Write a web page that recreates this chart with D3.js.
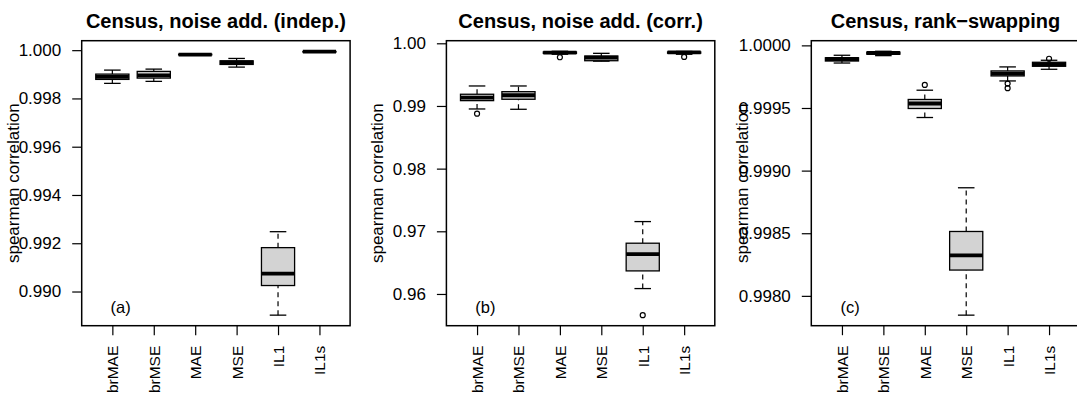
<!DOCTYPE html>
<html>
<head>
<meta charset="utf-8">
<script src="https://cdn.jsdelivr.net/npm/d3@7"></script>
<style>
  body { margin: 0; background: #fff; }
  text { font-family: "Liberation Sans", Arial, sans-serif; fill: #000; }
</style>
</head>
<body>
<div id="chart"></div>
<script>
// Plot constants
const WIDTH = 1077;
const HEIGHT = 397;

// categories
const methods = ["brMAE", "brMSE", "MAE", "MSE", "IL1", "IL1s"];

// box stats per method: [lower whisker, q1, median, q3, upper whisker]
const indepStats = [
  [0.998624, 0.998789, 0.998897, 0.999008, 0.999174],
  [0.998707, 0.998843, 0.998955, 0.99912, 0.999215],
  [0.999785, 0.999805, 0.999818, 0.99983, 0.999845],
  [0.999298, 0.999409, 0.999492, 0.999558, 0.999657],
  [0.989021, 0.990248, 0.990744, 0.991818, 0.992479],
  [0.99991, 0.999925, 0.999937, 0.999945, 0.999955],
];
const indepOutliers = [];

const corrStats = [
  [0.98952, 0.99085, 0.99132, 0.99187, 0.99319],
  [0.98947, 0.99107, 0.99171, 0.99228, 0.99319],
  [0.99825, 0.9984, 0.99852, 0.99862, 0.99873],
  [0.99715, 0.99722, 0.9977, 0.99797, 0.9984],
  [0.96086, 0.96368, 0.96635, 0.9681, 0.97155],
  [0.99825, 0.99842, 0.99855, 0.99862, 0.9987],
];
const corrOutliers = [
  ["brMAE", 0.98877],
  ["MAE", 0.99777],
  ["IL1", 0.95662],
  ["IL1s", 0.99782],
];

const swapStats = [
  [0.999859, 0.999875, 0.999891, 0.999901, 0.999921],
  [0.999918, 0.99993, 0.999939, 0.999946, 0.999953],
  [0.999424, 0.999496, 0.999536, 0.999568, 0.999642],
  [0.997846, 0.998206, 0.998323, 0.998514, 0.998863],
  [0.999716, 0.999756, 0.999774, 0.999796, 0.999828],
  [0.999809, 0.999833, 0.999849, 0.999865, 0.999881],
];
const swapOutliers = [
  ["MAE", 0.999684],
  ["IL1", 0.999695],
  ["IL1", 0.999658],
  ["IL1s", 0.999893],
];

// tick labels
const indepTicks = [0.99, 0.992, 0.994, 0.996, 0.998, 1.0];
const corrTicks = [0.96, 0.97, 0.98, 0.99, 1.0];
const swapTicks = [0.998, 0.9985, 0.999, 0.9995, 1.0];

const titles = [
  "Census, noise add. (indep.)",
  "Census, noise add. (corr.)",
  "Census, rank\u2212swapping",
];
const tags = ["(a)", "(b)", "(c)"];

const panels = [
  {stats: indepStats, outliers: indepOutliers, ticks: indepTicks, fmt: ".3f"},
  {stats: corrStats, outliers: corrOutliers, ticks: corrTicks, fmt: ".2f"},
  {stats: swapStats, outliers: swapOutliers, ticks: swapTicks, fmt: ".4f"},
];

// layout
const lefts = [81.7, 446.4, 811.3];
const plotW = 268.4;
const plotTop = 40.7;
const plotBottom = 325.7;
const FS = 17; // tick labels
const XFS = 15.5; // category labels

const svg = d3
  .select("#chart")
  .append("svg")
  .attr("width", WIDTH)
  .attr("height", HEIGHT);

panels.forEach((p, i) => {
  const left = lefts[i];
  const g = svg.append("g");

  // x scale like R: 0.5..n+0.5 extended by 4%
  const x = d3.scaleLinear().domain([0.26, 6.74]).range([left, left + plotW]);

  // y scale from data, extended by 4%
  const allVals = p.stats.flat().concat(p.outliers.map((d) => d[1]));
  const [lo, hi] = d3.extent(allVals);
  const pad = (hi - lo) * 0.04;
  const y = d3.scaleLinear().domain([lo - pad, hi + pad]).range([plotBottom, plotTop]);

  // y axis
  const yAxis = d3
    .axisLeft(y)
    .tickValues(p.ticks)
    .tickFormat(d3.format(p.fmt))
    .tickSize(9.5)
    .tickPadding(11);
  const ya = g.append("g").attr("transform", `translate(${left},0)`).call(yAxis);
  ya.select(".domain").remove();
  ya.selectAll("line").attr("stroke", "#000").attr("stroke-width", 1.2);
  ya.selectAll("text").attr("font-size", FS).attr("font-family", "Liberation Sans, Arial, sans-serif");

  // x axis, labels vertical
  const xAxis = d3
    .axisBottom(x)
    .tickValues(d3.range(1, methods.length + 1))
    .tickFormat((d) => methods[d - 1])
    .tickSize(9.5);
  const xa = g.append("g").attr("transform", `translate(0,${plotBottom})`).call(xAxis);
  xa.select(".domain").remove();
  xa.selectAll("line").attr("stroke", "#000").attr("stroke-width", 1.2);
  xa.selectAll("text")
    .attr("font-size", XFS)
    .attr("font-family", "Liberation Sans, Arial, sans-serif")
    .attr("transform", "rotate(-90)")
    .attr("text-anchor", "end")
    .attr("x", -20)
    .attr("y", 0)
    .attr("dy", "0.35em");

  // boxes
  const bw = 0.4; // half width 0.4 -> boxwex 0.8
  const boxes = g
    .selectAll(".box")
    .data(p.stats)
    .enter()
    .append("g")
    .attr("class", "box");

  // dashed whiskers
  boxes
    .append("line")
    .attr("x1", (d, k) => x(k + 1))
    .attr("x2", (d, k) => x(k + 1))
    .attr("y1", (d) => y(d[0]))
    .attr("y2", (d) => y(d[1]))
    .attr("stroke", "#000")
    .attr("stroke-width", 1.2)
    .attr("stroke-dasharray", "5,4");
  boxes
    .append("line")
    .attr("x1", (d, k) => x(k + 1))
    .attr("x2", (d, k) => x(k + 1))
    .attr("y1", (d) => y(d[3]))
    .attr("y2", (d) => y(d[4]))
    .attr("stroke", "#000")
    .attr("stroke-width", 1.2)
    .attr("stroke-dasharray", "5,4");

  // staples
  [0, 4].forEach((j) => {
    boxes
      .append("line")
      .attr("x1", (d, k) => x(k + 1 - bw / 2))
      .attr("x2", (d, k) => x(k + 1 + bw / 2))
      .attr("y1", (d) => y(d[j]))
      .attr("y2", (d) => y(d[j]))
      .attr("stroke", "#000")
      .attr("stroke-width", 1.3);
  });

  // box
  boxes
    .append("rect")
    .attr("x", (d, k) => x(k + 1 - bw))
    .attr("width", x(1 + bw) - x(1 - bw))
    .attr("y", (d) => y(d[3]))
    .attr("height", (d) => Math.max(0, y(d[1]) - y(d[3])))
    .attr("fill", "#d3d3d3")
    .attr("stroke", "#000")
    .attr("stroke-width", 1.3);

  // median
  boxes
    .append("line")
    .attr("x1", (d, k) => x(k + 1 - bw))
    .attr("x2", (d, k) => x(k + 1 + bw))
    .attr("y1", (d) => y(d[2]))
    .attr("y2", (d) => y(d[2]))
    .attr("stroke", "#000")
    .attr("stroke-width", 3.8);

  // outliers
  g.selectAll(".out")
    .data(p.outliers)
    .enter()
    .append("circle")
    .attr("class", "out")
    .attr("cx", (d) => x(methods.indexOf(d[0]) + 1))
    .attr("cy", (d) => y(d[1]))
    .attr("r", 2.5)
    .attr("fill", "none")
    .attr("stroke", "#000")
    .attr("stroke-width", 1.2);

  // frame
  g.append("rect")
    .attr("x", left)
    .attr("y", plotTop)
    .attr("width", plotW)
    .attr("height", plotBottom - plotTop)
    .attr("fill", "none")
    .attr("stroke", "#000")
    .attr("stroke-width", 1.5);

  // panel tag
  g.append("text")
    .attr("x", x(1.2))
    .attr("y", plotBottom - 18)
    .attr("dy", "0.35em")
    .attr("text-anchor", "middle")
    .attr("font-size", 16.5)
    .text(tags[i]);

  // y label
  g.append("text")
    .attr("transform", `translate(${left - 63},${(plotTop + plotBottom) / 2}) rotate(-90)`)
    .attr("text-anchor", "middle")
    .attr("font-size", 17)
    .text("spearman correlation");

  // title
  g.append("text")
    .attr("x", left + plotW / 2)
    .attr("y", 27.5)
    .attr("text-anchor", "middle")
    .attr("font-size", 20)
    .attr("font-weight", "bold")
    .text(titles[i]);
});
</script>
</body>
</html>
